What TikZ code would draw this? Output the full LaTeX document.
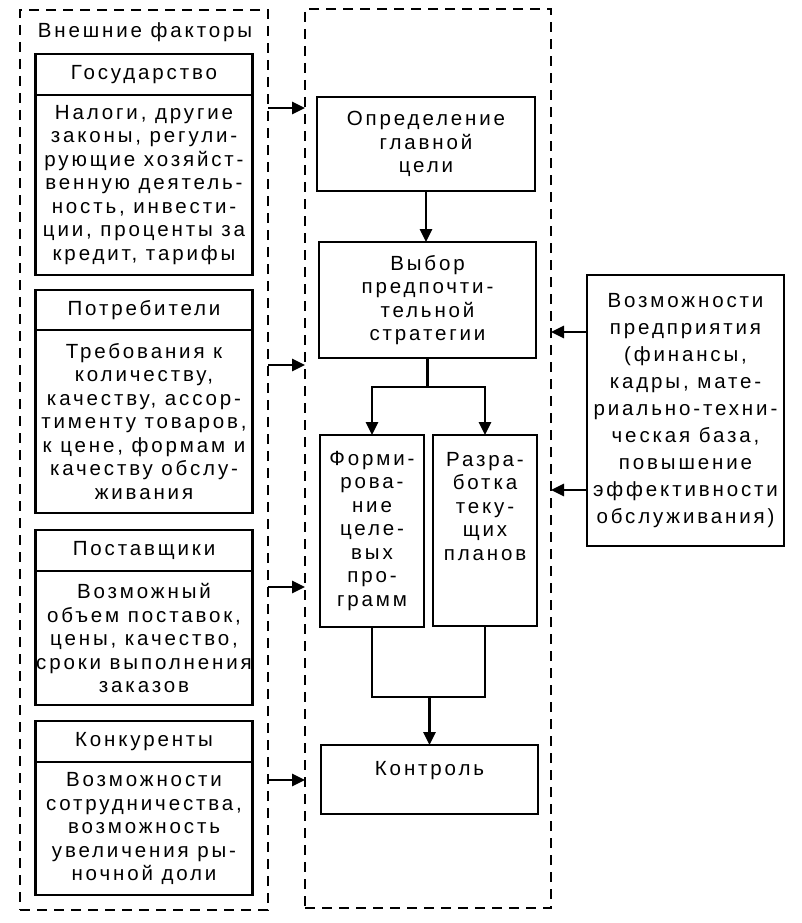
\documentclass[tikz,border=0pt]{standalone}
\usepackage{fontspec}
\setmainfont{Liberation Sans}[LetterSpace=14]
\usepackage{tikz}
\usetikzlibrary{arrows.meta,positioning}

\begin{document}
\begin{tikzpicture}[x=1pt,y=-1pt,line width=2.8pt,font=\fontsize{20.5}{23.5}\selectfont]
        \tikzset{Box/.style={%
            shape=rectangle,%
            draw=black,%
            inner sep=0pt,%
            outer sep=0pt,%
            align=center,%
        }}
        \tikzset{Frame/.style={%
            shape=rectangle,%
            draw=black,%
            outer sep=0pt,%
            dash pattern=on 10pt off 7pt,%
        }}
        \tikzset{>={Triangle[length=13pt,width=12pt]}}

        \useasboundingbox (0,0) rectangle (802,923);

        % dashed frames
        \node[Frame, minimum width=248pt, minimum height=900pt] (ext) at (144,460) {};
        \node[Frame, minimum width=246pt, minimum height=899pt] (plan) at (428,458.5) {};
        \node (title) at (145,32) {Внешние факторы};

        % external factors
        \node[Box, minimum width=217pt, minimum height=41pt] (gov) at (144,74.5) {Государство};
        \node[Box, minimum width=217pt, minimum height=180pt, below=0pt of gov] (govtext) {Налоги, другие\\ законы, регули-\\ рующие хозяйст-\\ венную деятель-\\ ность, инвести-\\ ции, проценты за\\ кредит, тарифы};
        \node[Box, minimum width=217pt, minimum height=40pt] (cons) at (144,310) {Потребители};
        \node[Box, minimum width=217pt, minimum height=183pt, below=0pt of cons] (constext) {Требования к\\ количеству,\\ качеству, ассор-\\ тименту товаров,\\ к цене, формам и\\ качеству обслу-\\ живания};
        \node[Box, minimum width=217pt, minimum height=41pt] (supp) at (144,550.5) {Поставщики};
        \node[Box, minimum width=217pt, minimum height=134pt, below=0pt of supp] (supptext) {Возможный\\ объем поставок,\\ цены, качество,\\ сроки выполнения\\ заказов};
        \node[Box, minimum width=217pt, minimum height=41pt] (comp) at (144,741.5) {Конкуренты};
        \node[Box, minimum width=217pt, minimum height=133pt, below=0pt of comp] (comptext) {Возможности\\ сотрудничества,\\ возможность\\ увеличения ры-\\ ночной доли};

        % planning steps
        \node[Box, minimum width=218pt, minimum height=94pt] (goal) at (426,144) {Определение\\ главной\\ цели};
        \node[Box, minimum width=217pt, minimum height=116pt] (strat) at (427.5,300) {Выбор\\ предпочти-\\ тельной\\ стратегии};
        \node[Box, minimum width=104pt, minimum height=192pt] (prog) at (372,531) {Форми-\\ рова-\\ ние\\ целе-\\ вых\\ про-\\ грамм};
        \node[Box, minimum width=104pt, minimum height=191pt] (plans) at (485,530.5) {\parbox[c][157pt][t]{100pt}{\centering Разра-\\ ботка\\ теку-\\ щих\\ планов}};
        \node[Box, minimum width=217pt, minimum height=69pt] (ctrl) at (429.5,779.5) {\parbox[c][37pt][t]{200pt}{\centering Контроль}};

        % internal resources
        \node[Box, minimum width=197pt, minimum height=271pt, font=\fontsize{20.5}{27}\selectfont] (res) at (685.5,410.5) {Возможности\\ предприятия\\ (финансы,\\ кадры, мате-\\ риально-техни-\\ ческая база,\\ повышение\\ эффективности\\ обслуживания)};

        \draw[->] (ext.east |- 0,108) -- (plan.west |- 0,108);
        \draw[->] (ext.east |- 0,365) -- (plan.west |- 0,365);
        \draw[->] (ext.east |- 0,587) -- (plan.west |- 0,587);
        \draw[->] (ext.east |- 0,780) -- (plan.west |- 0,780);
        \draw[->] (res.west |- 0,332) -- (plan.east |- 0,332);
        \draw[->] (res.west |- 0,490) -- (plan.east |- 0,490);

        \draw[->] (goal.south) -- (goal.south |- strat.north);
        \draw (strat.south) -- ++(0,29) coordinate (fork);
        \draw[->] (fork) -| (prog.north);
        \draw[->] (fork) -| (plans.north);
        \coordinate (join) at (ctrl.north |- 0,697);
        \draw (prog.south) |- (join) -| (plans.south);
        \draw[->] (join) -- (ctrl.north);
\end{tikzpicture}
\end{document}
